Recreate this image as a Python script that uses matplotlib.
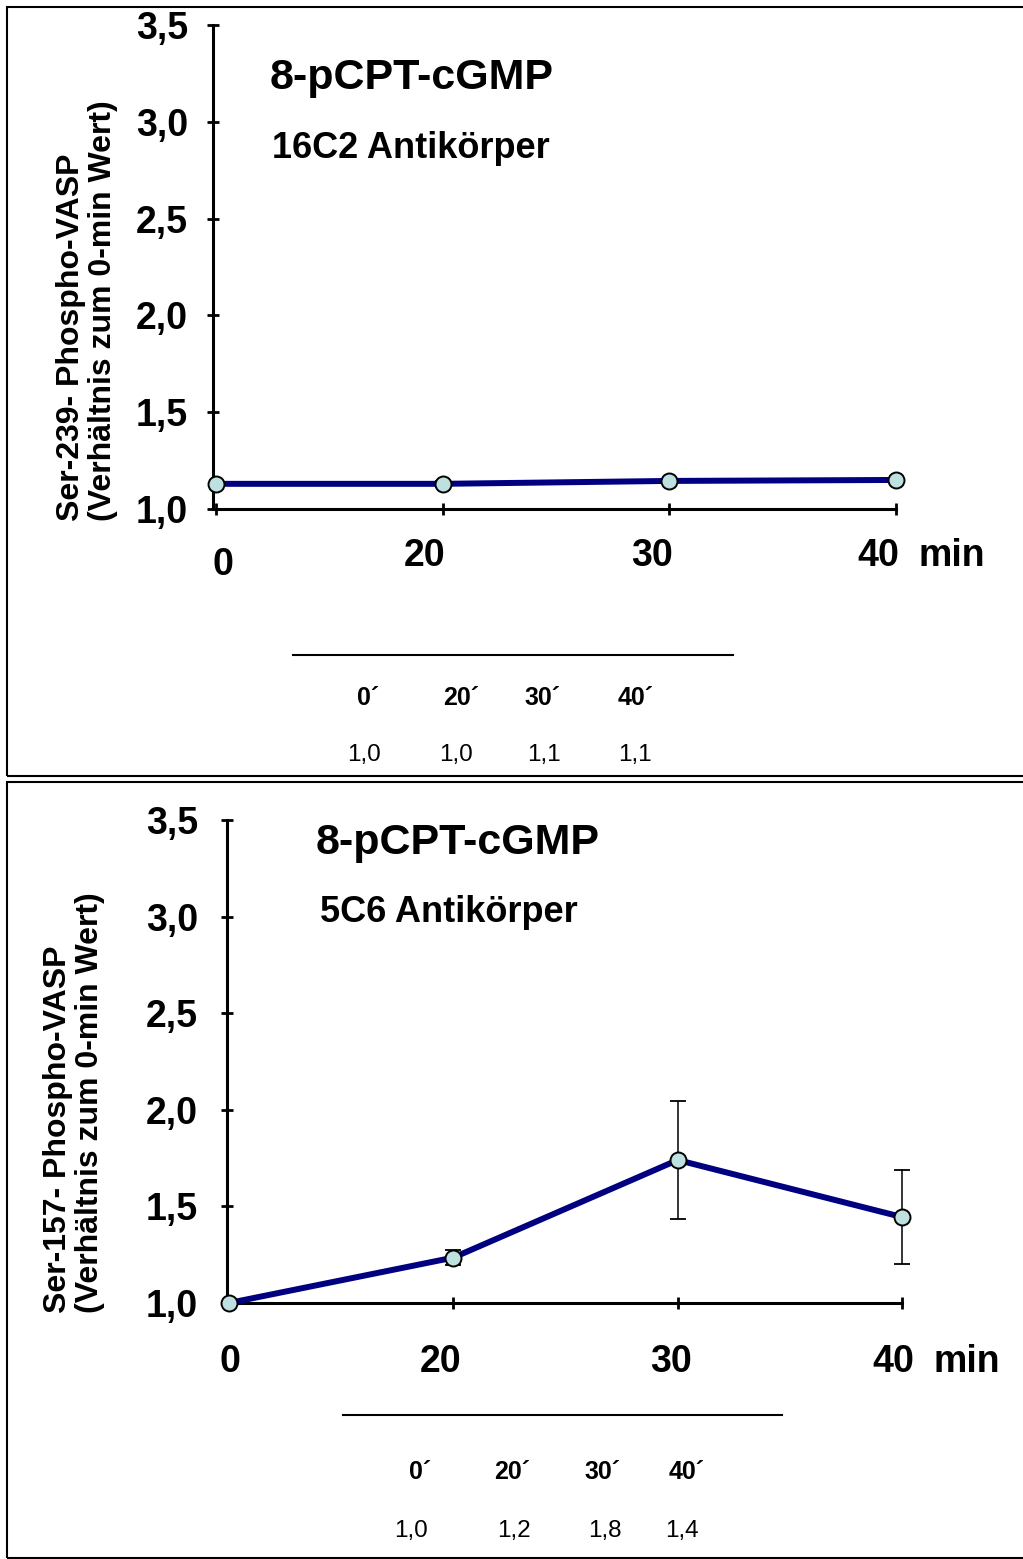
import matplotlib
matplotlib.use("Agg")
import matplotlib.pyplot as plt
from matplotlib.patches import Rectangle
from matplotlib.lines import Line2D
from matplotlib.transforms import blended_transform_factory, ScaledTranslation

# ---------------- data ----------------
time_labels = ["0", "20", "30", "40"]
positions = [0, 1, 2, 3]

top_values = [1.13, 1.13, 1.145, 1.15]
top_err = [0.0, 0.015, 0.0, 0.01]

bottom_values = [1.0, 1.235, 1.74, 1.445]
bottom_err = [0.0, 0.04, 0.305, 0.245]

yticks = [1.0, 1.5, 2.0, 2.5, 3.0, 3.5]
ytick_labels = ["1,0", "1,5", "2,0", "2,5", "3,0", "3,5"]

table_headers = ["0´", "20´", "30´", "40´"]
top_table_values = ["1,0", "1,0", "1,1", "1,1"]
bottom_table_values = ["1,0", "1,2", "1,8", "1,4"]

top_title = "8-pCPT-cGMP"
top_subtitle = "16C2 Antikörper"
top_ylabel = "Ser-239- Phospho-VASP\n(Verhältnis zum 0-min Wert)"
bottom_title = "8-pCPT-cGMP"
bottom_subtitle = "5C6 Antikörper"
bottom_ylabel = "Ser-157- Phospho-VASP\n(Verhältnis zum 0-min Wert)"

# ---------------- style ----------------
plt.rcParams["font.family"] = ["Liberation Sans", "DejaVu Sans"]
W, H = 1023, 1559
DPI = 100
fig = plt.figure(figsize=(W / DPI, H / DPI), dpi=DPI)
fig.patch.set_facecolor("white")

LINE_COLOR = "#000080"
MARKER_FACE = "#BEE0E0"


def fx(x):
    return x / W


def fy(y):
    return 1 - y / H


def px_text(x, y, s, **kw):
    fig.text(fx(x), fy(y), s, **kw)


def make_panel(left_px, right_px, top_px, bottom_px, zero_px, values, errs,
               xlabel_specs, min_x, label_baseline, ytick_pad):
    ax = fig.add_axes([fx(left_px), fy(bottom_px),
                       (right_px - left_px) / W, (bottom_px - top_px) / H])
    unit = (right_px - zero_px) / 3.0
    xmin = -(zero_px - left_px) / unit
    ax.set_xlim(xmin, 3)
    ax.set_ylim(1.0, 3.5)
    for s in ["top", "right"]:
        ax.spines[s].set_visible(False)
    for s in ["left", "bottom"]:
        ax.spines[s].set_linewidth(2.2)
        ax.spines[s].set_color("black")
    ax.set_facecolor("none")
    ax.set_xticks(positions)
    ax.set_xticklabels([])
    ax.set_yticks(yticks)
    ax.set_yticklabels(ytick_labels, fontsize=27, fontweight="bold")
    ax.tick_params(axis="both", direction="inout", length=8, width=2, color="black")
    ax.tick_params(axis="y", pad=ytick_pad)

    ax.errorbar(positions, values, yerr=errs, fmt="none", ecolor="black",
                elinewidth=1.1, capsize=5.5, capthick=1.3, zorder=3, clip_on=False)
    ax.plot(positions, values, color=LINE_COLOR, lw=4.3, zorder=4,
            solid_capstyle="butt", clip_on=False)
    ax.plot(positions, values, linestyle="none", marker="o", markersize=11.5,
            markerfacecolor=MARKER_FACE, markeredgecolor="black",
            markeredgewidth=1.4, zorder=5, clip_on=False)

    # x tick labels
    trans = blended_transform_factory(ax.transData, fig.transFigure)
    for p, lab, (dx, base) in zip(positions, time_labels, xlabel_specs):
        off = ScaledTranslation(dx / DPI, 0, fig.dpi_scale_trans)
        ax.text(p, fy(base), lab, transform=trans + off, ha="center",
                va="baseline", fontsize=27, fontweight="bold", clip_on=False)
    px_text(min_x, label_baseline, "min", ha="center", va="baseline",
            fontsize=27, fontweight="bold")
    return ax


# ---------------- top panel ----------------
make_panel(213, 896, 25, 509, 216, top_values, top_err,
           [(7, 575), (-18, 566), (-17, 566), (-18, 566)], 952, 566, 14)

px_text(270, 89, top_title, ha="left", va="baseline", fontsize=31, fontweight="bold")
px_text(272, 158, top_subtitle, ha="left", va="baseline", fontsize=26, fontweight="bold")
px_text(87, 521, top_ylabel, rotation=90, ha="center", va="bottom",
        fontsize=23, fontweight="bold", multialignment="left", linespacing=1.1)

fig.add_artist(Line2D([fx(293), fx(733)], [fy(655), fy(655)], color="black", lw=1.5))
hdr_x_top = [368, 461, 542, 636]
val_x_top = [364, 456, 544, 635]
for x, s in zip(hdr_x_top, table_headers):
    px_text(x, 705, s, ha="center", va="baseline", fontsize=18, fontweight="bold")
for x, s in zip(val_x_top, top_table_values):
    px_text(x, 761, s, ha="center", va="baseline", fontsize=17.5)

# ---------------- bottom panel ----------------
make_panel(227, 902, 820, 1303, 229, bottom_values, bottom_err,
           [(1, 1372), (-13, 1372), (-7, 1372), (-9, 1372)], 967, 1372, 17)

px_text(316, 854, bottom_title, ha="left", va="baseline", fontsize=31, fontweight="bold")
px_text(320, 922, bottom_subtitle, ha="left", va="baseline", fontsize=26, fontweight="bold")
px_text(74, 1313, bottom_ylabel, rotation=90, ha="center", va="bottom",
        fontsize=23, fontweight="bold", multialignment="left", linespacing=1.1)

fig.add_artist(Line2D([fx(343), fx(782)], [fy(1415), fy(1415)], color="black", lw=1.5))
hdr_x_bot = [420, 512, 602, 687]
val_x_bot = [411, 514, 605, 682]
for x, s in zip(hdr_x_bot, table_headers):
    px_text(x, 1479, s, ha="center", va="baseline", fontsize=18, fontweight="bold")
for x, s in zip(val_x_bot, bottom_table_values):
    px_text(x, 1537, s, ha="center", va="baseline", fontsize=17.5)

# ---------------- panel frames ----------------
fig.add_artist(Rectangle((fx(7), fy(776)), fx(1030) - fx(7), fy(7) - fy(776),
                         transform=fig.transFigure, fill=False, lw=1.5,
                         edgecolor="black"))
fig.add_artist(Rectangle((fx(7), fy(1558)), fx(1030) - fx(7), fy(782) - fy(1558),
                         transform=fig.transFigure, fill=False, lw=1.5,
                         edgecolor="black"))

fig.savefig("out.png", dpi=DPI, facecolor="white")
